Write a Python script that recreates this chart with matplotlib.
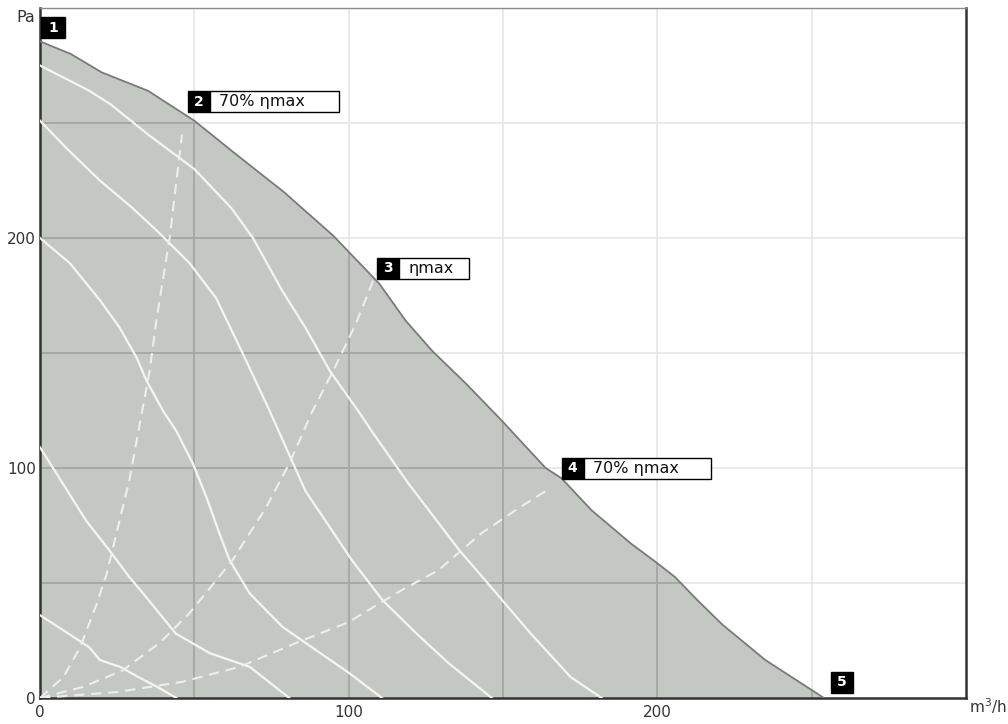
import matplotlib
matplotlib.use("Agg")
import matplotlib.pyplot as plt
import matplotlib.transforms as mtransforms
from matplotlib.patches import Polygon, Rectangle
import numpy as np

plt.rcParams['font.family'] = ['DejaVu Sans']

# ---------------- data ----------------
env_x = [0, 10, 20, 35, 50, 62, 79, 95, 110, 118.5, 127, 138, 149.6, 163.8, 169, 178.7,
         191.6, 200, 205.8, 213, 221, 235, 254]
env_y = [285.5, 280, 272, 264, 251, 238, 220, 201, 180, 164, 151, 136.7, 120.6, 100, 95.5,
         81.6, 67, 58.6, 52.5, 42.5, 32, 16.5, 0]

s1_x = [0, 16, 23, 35, 50, 62, 69, 78.5, 86, 94, 103, 108, 119.5, 136, 145, 159, 172, 182]
s1_y = [275, 264, 258, 245, 230, 213, 200, 177, 161, 142, 125, 115, 93, 64, 50, 28, 9, 0]
s2_x = [0, 8.6, 19.4, 30, 38, 48.5, 57, 65.6, 74, 80, 86, 94, 101, 111, 122, 132.5, 146.4]
s2_y = [251, 239, 225, 213, 203, 189, 174, 150, 126, 108, 90, 74, 60, 42.5, 28, 15, 0]
s3_x = [0, 9.7, 19.4, 25.8, 31.3, 34.5, 39.8, 44.2, 49.5, 54, 58, 61.4, 67.9, 78.5, 86, 100, 110.8]
s3_y = [200, 189, 173, 161, 148, 138, 125, 116, 102, 87, 72, 60, 45.5, 31, 24, 11, 0]
s4_x = [0, 7.5, 15, 22.6, 29, 33.4, 44, 55, 68, 80.8]
s4_y = [109, 93, 77, 64, 52.5, 45.5, 28, 19.5, 13.5, 0]
s5_x = [0, 7.5, 16, 19.4, 26, 32, 38, 44.2]
s5_y = [36, 29.5, 22, 16.5, 13.5, 9, 4.8, 0]
speed_curves = [(s1_x, s1_y), (s2_x, s2_y), (s3_x, s3_y), (s4_x, s4_y), (s5_x, s5_y)]

sysA_x = [0, 7.5, 13, 18.4, 21.6, 29, 32.3, 35.5, 37.8, 42, 46]
sysA_y = [0, 9, 22, 41, 54, 95, 119, 142, 165, 200, 245]
sysB_x = [0, 13.9, 26.8, 38.8, 48.5, 57, 62.4, 73.3, 80.8, 88, 96, 102.4, 109]
sysB_y = [0, 4.8, 12, 24, 37, 51, 60, 83, 102, 124, 145, 163, 185]
sysC_x = [0, 25, 46, 64.6, 84, 100, 116, 129, 143, 154, 165]
sysC_y = [0, 2.6, 7, 13.5, 24.5, 33, 46, 55.5, 71.6, 81.6, 91]
system_curves = [(sysA_x, sysA_y), (sysB_x, sysB_y), (sysC_x, sysC_y)]

x_ticks = [0, 100, 200]
y_ticks = [0, 100, 200]
grid_x = [50, 100, 150, 200, 250]
grid_y = [50, 100, 150, 200, 250]

label_nums = ['1', '2', '3', '4', '5']
label_texts = ['', '70% ηmax', 'ηmax', '70% ηmax', '']
label_x = [0.3, 47.8, 109.2, 169, 256.2]
label_y = [286.8, 254.7, 182.2, 95.4, 2.2]
label_box_w = [0, 129, 70, 127, 0]

# ---------------- figure ----------------
fig = plt.figure(figsize=(10.08, 7.24), dpi=100)
W, H = 1008, 724
ax = fig.add_axes([40 / W, (724 - 698) / H, 926 / W, 690 / H])
ax.set_xlim(0, 300)
ax.set_ylim(0, 300)

fill_col = '#c4c8c2'
# light grid
for gx in grid_x:
    ax.axvline(gx, color='#e6e6e6', lw=1.2, zorder=0)
for gy in grid_y:
    ax.axhline(gy, color='#e6e6e6', lw=1.2, zorder=0)

# operating area
poly = Polygon(np.column_stack([env_x + [0], env_y + [0]]), closed=True,
               facecolor=fill_col, edgecolor='none', zorder=1)
ax.add_patch(poly)
ax.plot(env_x, env_y, color='#7a7a7a', lw=1.3, zorder=4)

# darker grid inside the area
for gx in grid_x:
    ln = ax.axvline(gx, color='#a6aaa5', lw=1.4, zorder=2)
    ln.set_clip_path(poly)
for gy in grid_y:
    ln = ax.axhline(gy, color='#a6aaa5', lw=1.4, zorder=2)
    ln.set_clip_path(poly)

for cx, cy in speed_curves:
    ax.plot(cx, cy, color='#f5f5f2', lw=1.6, zorder=3, solid_joinstyle='round')
for cx, cy in system_curves:
    ax.plot(cx, cy, color='#eeeeea', lw=1.5, zorder=3, dashes=(5, 3.2))

# spines
for side in ['left', 'bottom', 'right']:
    ax.spines[side].set_color('#333333')
    ax.spines[side].set_linewidth(1.8)
ax.spines['top'].set_color('#8a8a8a')
ax.spines['top'].set_linewidth(1.0)

ax.set_xticks(x_ticks)
ax.set_yticks(y_ticks)
ax.set_xticklabels([str(v) for v in x_ticks])
ax.set_yticklabels([str(v) for v in y_ticks])
ax.tick_params(length=0, labelsize=11, colors='#333333')
ax.tick_params(axis='x', pad=5)
ax.tick_params(axis='y', pad=3)
ax.text(-0.005, 1.0 - 9 / 690, 'Pa', transform=ax.transAxes, ha='right', va='center',
        fontsize=11.5, color='#333333')
ax.text(1.003, 0.002, r'm$^{3}$/h', transform=ax.transAxes, ha='left', va='top',
        fontsize=11, color='#333333')

# labels
for num, txt, lx, ly, bw in zip(label_nums, label_texts, label_x, label_y, label_box_w):
    tr = mtransforms.Affine2D() + mtransforms.ScaledTranslation(lx, ly, ax.transData)
    bh = 21
    sq = 22 if num != '1' else 24
    ax.add_patch(Rectangle((0, 0), sq, bh, transform=tr, facecolor='black',
                           edgecolor='black', lw=1, zorder=6, clip_on=False))
    ax.text(sq / 2, bh / 2, num, transform=tr, ha='center', va='center',
            color='white', fontsize=10, fontweight='bold', zorder=7, clip_on=False)
    if txt:
        ax.add_patch(Rectangle((sq, 0), bw, bh, transform=tr, facecolor='white',
                               edgecolor='black', lw=1, zorder=6, clip_on=False))
        ax.text(sq + 9, bh / 2, txt, transform=tr, ha='left', va='center',
                color='#111111', fontsize=11.5, zorder=7, clip_on=False)

fig.savefig('out.png', dpi=100)
